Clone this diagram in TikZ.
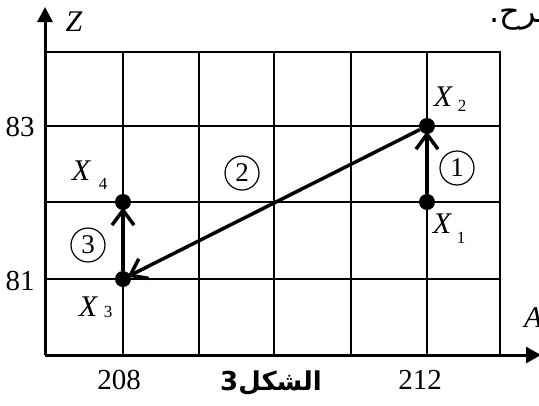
\documentclass[tikz,border=0pt]{standalone}
\usepackage{fontspec}
\setmainfont{Liberation Serif}
\newfontfamily\arabicfont[Script=Arabic]{DejaVu Sans}
\TeXXeTstate=1
\usetikzlibrary{arrows.meta}
\begin{document}
\begin{tikzpicture}[x=1pt,y=-1pt,
  gridline/.style={line width=1.7pt},
  axisline/.style={line width=3pt},
  conn/.style={line width=3.5pt, shorten >=-3pt, -{Straight Barb[length=15pt,width=22pt]}},
  dot/.style={circle, fill=black, inner sep=0pt, minimum size=16pt},
  lbl/.style={font=\fontsize{29}{29}\selectfont, inner sep=0pt},
  xl/.style={font=\fontsize{30}{30}\selectfont\itshape, inner sep=0pt},
  sublbl/.style={font=\fontsize{17}{17}\selectfont, inner sep=0pt},
  cnum/.style={circle, draw, line width=1.2pt, minimum size=34pt, inner sep=0pt, font=\fontsize{27}{27}\selectfont}]
\useasboundingbox (0,0) rectangle (539,405);
% grid
\foreach \x in {123,199,274,351,427} \draw[gridline] (\x,52) -- (\x,355);
\foreach \y in {126,202,279} \draw[gridline] (45,\y) -- (500,\y);
\draw[gridline] (45,52) -- (500,52) -- (500,355);
% axes
\coordinate (O) at (45,355);
\coordinate (ztip) at (45,7);
\coordinate (atip) at (541,355);
\draw[axisline,-{Triangle[length=15pt,width=15pt]}] (O) -- (ztip);
\draw[axisline,-{Triangle[length=15pt,width=16pt]}] (O) -- (atip);
% points
\node[dot] (x1) at (427,202) {};
\node[dot] (x2) at (427,126) {};
\node[dot] (x3) at (123,279) {};
\node[dot] (x4) at (123,202) {};
% connectors
\draw[conn] (x1) -- (x2);
\draw[conn] (x2) -- (x3);
\draw[conn] (x3) -- (x4);
% circled numbers
\node[cnum] (c1) at (457,168) {1};
\node[cnum] (c2) at (242,173) {2};
\node[cnum] (c3) at (88,245) {3};
% point labels
\node[xl] (lx1) at (442,224) {X};
\node[sublbl] (sx1) at (461,238) {1};
\node[xl] (lx2) at (443,97) {X};
\node[sublbl] (sx2) at (462,106) {2};
\node[xl] (lx3) at (88,307) {X};
\node[sublbl] (sx3) at (108,312) {3};
\node[xl] (lx4) at (81,171) {X};
\node[sublbl] (sx4) at (103,184) {4};
% axis labels
\node[xl] (zl) at (74,22) {Z};
\node[xl, anchor=west] (al) at (524,318) {A};
\node[lbl] (v83) at (20,127) {83};
\node[lbl] (v81) at (20,281) {81};
\node[lbl] (v208) at (119,380) {208};
\node[lbl] (v212) at (420,380) {212};
% arabic texts
\node[inner sep=0pt, anchor=base west, font=\arabicfont\fontsize{32}{32}\selectfont] (ttop) at (489,22) {\beginR شرح.\endR};
\node[inner sep=0pt, font=\arabicfont\bfseries\fontsize{26}{26}\selectfont] (cap) at (271,383) {\beginR الشكل3\endR};
\end{tikzpicture}
\end{document}
